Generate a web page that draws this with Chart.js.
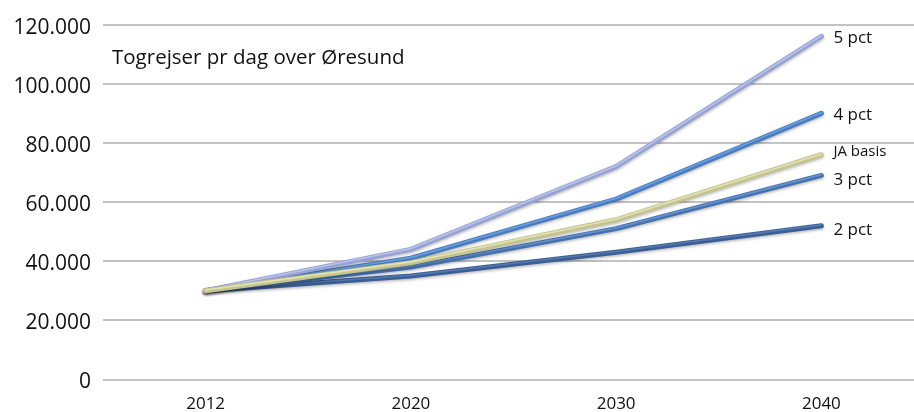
<!DOCTYPE html>
<html lang="da">
<head>
<meta charset="utf-8">
<title>Togrejser pr dag over Øresund</title>
<script src="https://cdn.jsdelivr.net/npm/chart.js@4.4.1/dist/chart.umd.min.js"></script>
<style>
  html, body { margin: 0; padding: 0; background: #fff; overflow: hidden; }
  #wrap { width: 924px; height: 412px; }
</style>
</head>
<body>
<div id="wrap"><canvas id="c" width="924" height="412"></canvas></div>
<script>
// Train journeys per day across Øresund, by growth scenario
const years = ['2012', '2020', '2030', '2040'];
const pct2 = [30000, 35000, 43000, 52000];
const pct3 = [30000, 38000, 51000, 69000];
const pct4 = [30000, 41000, 61000, 90000];
const pct5 = [30000, 44000, 72000, 116000];
const jaBasis = [30000, 39500, 54000, 76000];
const seriesNames = ['2 pct', '3 pct', '4 pct', '5 pct', 'JA basis'];
const yMin = 0, yMax = 120000, yStep = 20000;
const chartTitle = 'Togrejser pr dag over Øresund';

// line styling: base colour, highlight stripe, end-label offset
const styles = {
  '2 pct':    { color: '#3a5e95', light: '#5679ad', dy: 4,  font: 17, order: 4 },
  '3 pct':    { color: '#4471b0', light: '#6490cb', dy: 5,  font: 17, order: 3 },
  '4 pct':    { color: '#497dc2', light: '#6d9ddc', dy: 2,  font: 17, order: 2 },
  '5 pct':    { color: '#96a2d5', light: '#bac3ea', dy: 1.5, font: 17, order: 1 },
  'JA basis': { color: '#c4c48c', light: '#e2e2b8', dy: -3, font: 15, order: 0 }
};
const seriesValues = [pct2, pct3, pct4, pct5, jaBasis];

const fmt = v => String(v).replace(/\B(?=(\d{3})+(?!\d))/g, '.');

const lineFx = {
  id: 'lineFx',
  beforeDatasetDraw(chart) {
    const ctx = chart.ctx;
    ctx.save();
    ctx.shadowColor = 'rgba(0,0,0,0.28)';
    ctx.shadowBlur = 3;
    ctx.shadowOffsetY = 1.5;
  },
  afterDatasetDraw(chart, args) {
    const ctx = chart.ctx;
    ctx.restore();
    const meta = args.meta;
    const st = styles[chart.data.datasets[args.index].label];
    ctx.save();
    ctx.beginPath();
    meta.data.forEach((p, i) => {
      if (i === 0) ctx.moveTo(p.x, p.y - 0.8); else ctx.lineTo(p.x, p.y - 0.8);
    });
    ctx.strokeStyle = st.light;
    ctx.lineWidth = 1.6;
    ctx.lineCap = 'round';
    ctx.lineJoin = 'round';
    ctx.stroke();
    ctx.restore();
  },
  afterDatasetsDraw(chart) {
    const ctx = chart.ctx;
    ctx.save();
    ctx.fillStyle = '#111';
    ctx.textBaseline = 'middle';
    ctx.textAlign = 'left';
    chart.data.datasets.forEach((ds, i) => {
      const meta = chart.getDatasetMeta(i);
      const last = meta.data[meta.data.length - 1];
      const st = styles[ds.label];
      ctx.font = st.font + 'px "Open Sans", sans-serif';
      ctx.fillText(ds.label, last.x + 12, last.y + st.dy);
    });
    ctx.font = '20.5px "Open Sans", sans-serif';
    ctx.textBaseline = 'alphabetic';
    ctx.fillText(chartTitle, 112, 64);
    ctx.restore();
  }
};

new Chart(document.getElementById('c'), {
  type: 'line',
  data: {
    labels: years,
    datasets: seriesNames.map((name, i) => ({
      label: name,
      data: seriesValues[i],
      borderColor: styles[name].color,
      borderWidth: 5,
      borderCapStyle: 'round',
      borderJoinStyle: 'round',
      pointRadius: 0,
      pointHoverRadius: 0,
      tension: 0,
      fill: false,
      order: styles[name].order
    }))
  },
  options: {
    responsive: false,
    devicePixelRatio: 1,
    animation: false,
    layout: { padding: { top: 24, right: 0, left: 0, bottom: 0 } },
    plugins: { legend: { display: false }, tooltip: { enabled: false }, title: { display: false } },
    scales: {
      x: {
        offset: true,
        grid: { display: false, drawTicks: false },
        border: { display: false },
        ticks: { color: '#111', font: { family: 'Open Sans', size: 17 }, padding: 14, maxRotation: 0 },
        afterFit(s) { s.height = 32.5; }
      },
      y: {
        min: yMin, max: yMax,
        grid: { color: '#c2c2c2', lineWidth: 2, drawTicks: false },
        border: { display: false },
        ticks: {
          stepSize: yStep, color: '#111', padding: 12, labelOffset: 3,
          font: { family: 'Open Sans', size: 21 },
          callback: v => fmt(v)
        },
        afterFit(s) { s.width = 103; }
      }
    }
  },
  plugins: [lineFx]
});
</script>
</body>
</html>
